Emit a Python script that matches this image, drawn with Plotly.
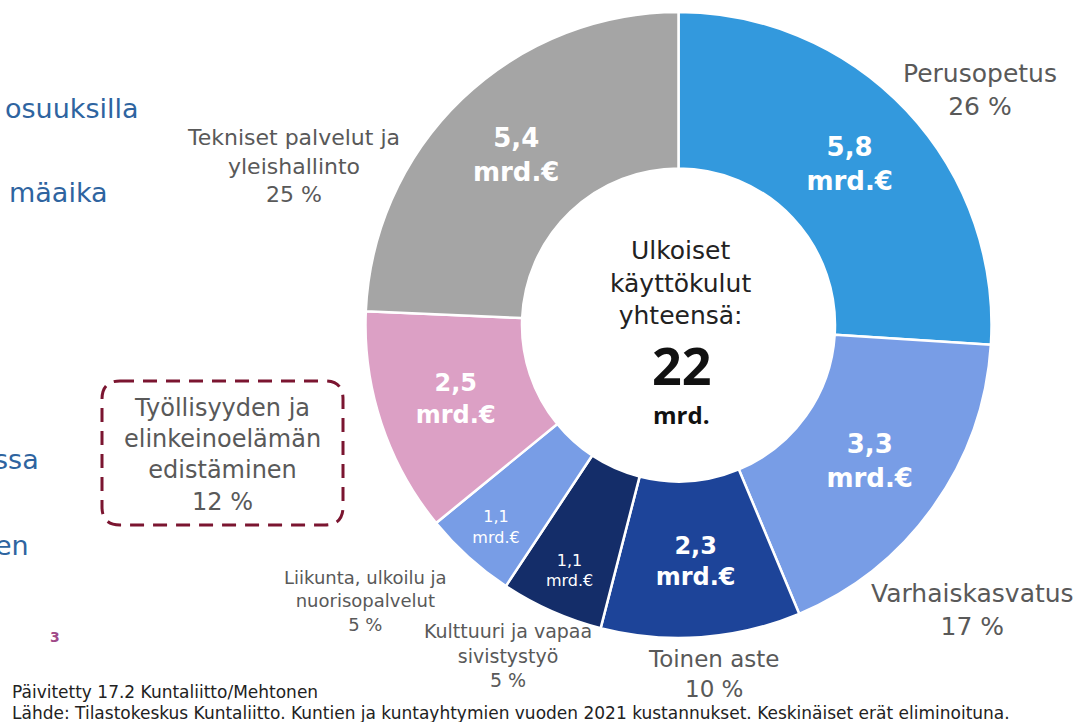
import plotly.graph_objects as go

# ---- data ----
categories = ["Perusopetus", "Varhaiskasvatus", "Toinen aste",
              "Kulttuuri ja vapaa sivistystyö", "Liikunta, ulkoilu ja nuorisopalvelut",
              "Työllisyyden ja elinkeinoelämän edistäminen", "Tekniset palvelut ja yleishallinto"]
label_lines = ["Perusopetus", "Varhaiskasvatus", "Toinen aste",
               "Kulttuuri ja vapaa<br>sivistystyö", "Liikunta, ulkoilu ja<br>nuorisopalvelut",
               "Työllisyyden ja<br>elinkeinoelämän<br>edistäminen", "Tekniset palvelut ja<br>yleishallinto"]
shares_pct = [26, 17, 10, 5, 5, 12, 25]            # printed percentages
slice_share = [26.0, 17.7, 10.3, 5.3, 4.8, 11.6, 24.3]  # slice sizes as drawn
amounts_mrd = ["5,8", "3,3", "2,3", "1,1", "1,1", "2,5", "5,4"]
total_mrd = "22"

colors = ["#3399dd", "#789de6", "#1d4499", "#142d69", "#789de6", "#dca0c5", "#a5a5a5"]
W, H = 1083, 722

def px(x):
    return x / W

def py(y):
    return 1 - y / H

text_sizes = [26, 26, 24, 16, 16, 24, 26]
slice_text = []
for a, s in zip(amounts_mrd, text_sizes):
    if s >= 20:
        slice_text.append(f"<b>{a}<br>mrd.€</b>")
    else:
        slice_text.append(f"{a}<br>mrd.€")

LF = "DejaVu Sans"

fig = go.Figure()
fig.add_trace(go.Pie(
    labels=categories, values=slice_share, text=slice_text,
    textinfo="text", textposition="inside", insidetextorientation="horizontal",
    sort=False, direction="clockwise", rotation=0, hole=0.5,
    marker=dict(colors=colors, line=dict(color="white", width=2.5)),
    insidetextfont=dict(color="white", size=text_sizes, family=LF),
    domain=dict(x=[px(365), px(992)], y=[py(638), py(12)]),
    showlegend=False, hoverinfo="label+percent",
))

lab_color = "#595959"
anns = []

def add(text, x, y, size, color=lab_color, xanchor="center", family=LF, yanchor="middle"):
    anns.append(dict(text=text, x=px(x), y=py(y), xref="paper", yref="paper",
                     showarrow=False, xanchor=xanchor, yanchor=yanchor,
                     font=dict(size=size, color=color, family=family), align="center"))

add(f"{label_lines[0]}<br>{shares_pct[0]} %", 980, 90, 25)
add(f"{label_lines[1]}<br>{shares_pct[1]} %", 972, 610, 25)
add(f"{label_lines[2]}<br>{shares_pct[2]} %", 713, 674, 23)
add(f"{label_lines[3]}<br>{shares_pct[3]} %", 508, 655, 19)
add(f"{label_lines[4]}<br>{shares_pct[4]} %", 365, 601, 18)
add(f"{label_lines[6]}<br>{shares_pct[6]} %", 293, 166, 22)
add(f"{label_lines[5]}<br>{shares_pct[5]} %", 222, 455, 24)

# centre text
add("Ulkoiset<br>käyttökulut<br>yhteensä:", 680, 283, 25, color="#222222")
add(f"<b>{total_mrd}</b>", 681, 365, 52, color="#111111", family="Open Sans")
add("<b>mrd.</b>", 681, 414, 24, color="#111111", family="Open Sans")

# cropped slide text on the left
blue = "#2e64a0"
add("osuuksilla", 141, 108, 27, color=blue, xanchor="right")
add("mäaika", 110, 192, 27, color=blue, xanchor="right")
add("ssa", 41, 459, 27, color=blue, xanchor="right")
add("en", 31, 545, 27, color=blue, xanchor="right")
add("<b>3</b>", 55, 637, 14, color="#a04a88")

# footer
add("Päivitetty 17.2 Kuntaliitto/Mehtonen", 10, 692, 17, color="#222222", xanchor="left")
add("Lähde: Tilastokeskus Kuntaliitto. Kuntien ja kuntayhtymien vuoden 2021 kustannukset. Keskinäiset erät eliminoituna.",
    10, 713, 17, color="#222222", xanchor="left")

# dashed rounded box
x0, x1, y0, y1 = px(102), px(343), py(525), py(381)
rx, ry = 18 / W, 18 / H
path = (f"M {x0+rx},{y1} L {x1-rx},{y1} Q {x1},{y1} {x1},{y1-ry} "
        f"L {x1},{y0+ry} Q {x1},{y0} {x1-rx},{y0} L {x0+rx},{y0} "
        f"Q {x0},{y0} {x0},{y0+ry} L {x0},{y1-ry} Q {x0},{y1} {x0+rx},{y1} Z")
fig.add_shape(type="path", path=path, xref="paper", yref="paper",
              line=dict(color="#7b1530", width=3, dash="14px,9px"))

fig.update_layout(width=W, height=H, margin=dict(l=0, r=0, t=0, b=0),
                  paper_bgcolor="white", plot_bgcolor="white",
                  annotations=anns, font=dict(family=LF))
fig.write_html("out.html", config={"displayModeBar": False},
               post_script="document.body.style.margin='0px';document.body.style.overflow='hidden';")
